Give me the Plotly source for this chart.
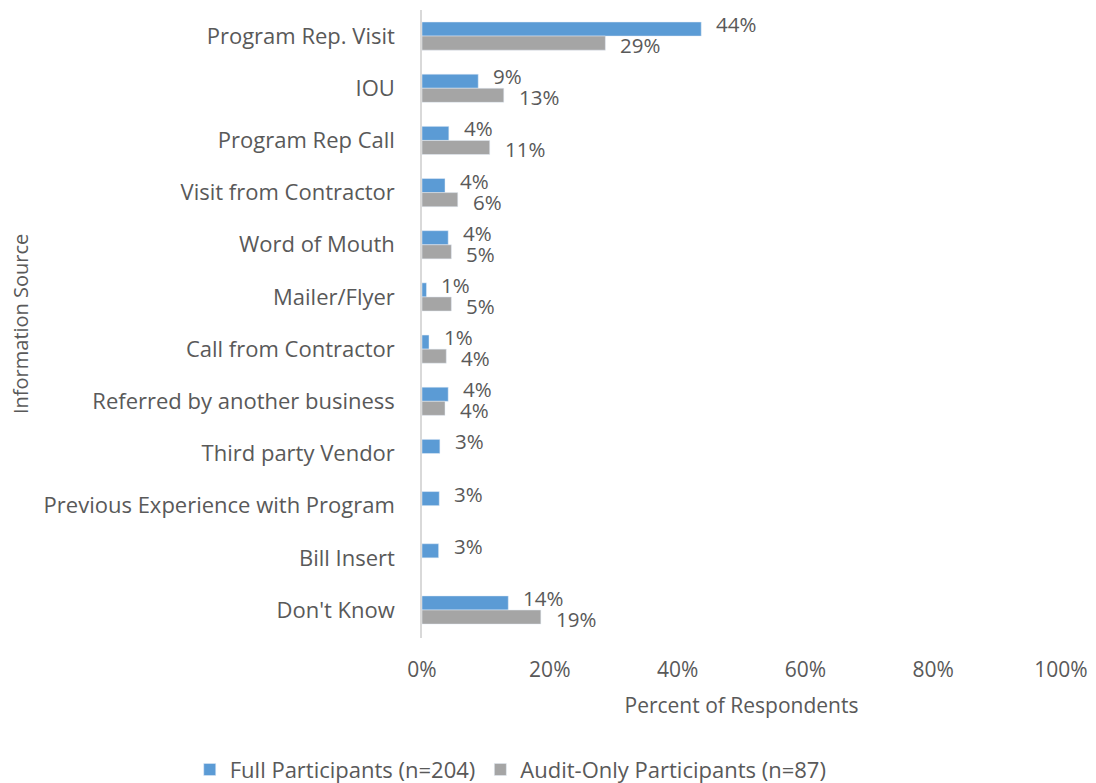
import plotly.graph_objects as go

categories = ["Program Rep. Visit", "IOU", "Program Rep Call", "Visit from Contractor",
              "Word of Mouth", "Mailer/Flyer", "Call from Contractor",
              "Referred by another business", "Third party Vendor",
              "Previous Experience with Program", "Bill Insert", "Don't Know"]
full_vals = [43.7, 8.8, 4.2, 3.6, 4.1, 0.7, 1.1, 4.1, 2.8, 2.7, 2.6, 13.5]
audit_vals = [28.7, 12.8, 10.6, 5.6, 4.6, 4.6, 3.8, 3.6, None, None, None, 18.6]
x_ticks = [0, 20, 40, 60, 80, 100]
x_tick_labels = ["0%", "20%", "40%", "60%", "80%", "100%"]

BLUE = "#5B9BD5"
GRAY = "#A5A5A5"
TXT = "#595959"
MAIN = "Open Sans, Liberation Sans, sans-serif"

fig = go.Figure()
fig.add_trace(go.Bar(
    y=categories, x=full_vals, orientation="h", name="Full Participants (n=204)",
    marker_color=BLUE,
))
fig.add_trace(go.Bar(
    y=categories, x=audit_vals, orientation="h", name="Audit-Only Participants (n=87)",
    marker_color=GRAY,
))

annotations = []
for cat, v in zip(categories, full_vals):
    if v is not None:
        annotations.append(dict(x=v, y=cat, xref="x", yref="y", text=f"{round(v):.0f}%",
                                showarrow=False, xanchor="left", yanchor="middle",
                                xshift=13, yshift=12,
                                font=dict(family=MAIN, size=20.5, color=TXT)))
for cat, v in zip(categories, audit_vals):
    if v is not None:
        annotations.append(dict(x=v, y=cat, xref="x", yref="y", text=f"{round(v):.0f}%",
                                showarrow=False, xanchor="left", yanchor="middle",
                                xshift=13, yshift=-9,
                                font=dict(family=MAIN, size=20.5, color=TXT)))

annotations.append(dict(
    text="Information Source", textangle=-90, xref="paper", yref="paper",
    x=-(422 - 20) / 639, y=0.5, xanchor="center", yanchor="middle",
    showarrow=False, font=dict(family=MAIN, size=20, color=TXT),
))

fig.update_layout(
    width=1096, height=783,
    barmode="group", bargap=0.46, bargroupgap=0,
    plot_bgcolor="white", paper_bgcolor="white",
    margin=dict(l=422, r=35, t=10, b=145, autoexpand=False),
    font=dict(family=MAIN, color=TXT),
    xaxis=dict(
        range=[0, 100], tickvals=x_ticks, ticktext=x_tick_labels,
        showgrid=False, zeroline=False, showline=False, ticks="",
        tickfont=dict(family=MAIN, size=21, color=TXT),
        ticklabelstandoff=17,
        title=dict(text="Percent of Respondents", standoff=16,
                   font=dict(family=MAIN, size=21, color=TXT)),
        automargin=False,
    ),
    yaxis=dict(
        autorange="reversed", showgrid=False, zeroline=False,
        showline=True, linecolor="#D9D9D9", linewidth=1.5, ticks="",
        tickfont=dict(family=MAIN, size=22, color=TXT),
        ticklabelstandoff=21, automargin=False,
    ),
    legend=dict(
        orientation="h", xref="container", yref="container",
        x=0.466, xanchor="center", y=0.017, yanchor="middle",
        font=dict(family=MAIN, size=22, color=TXT),
        itemwidth=30, traceorder="normal",
    ),
    annotations=annotations,
)

fig.write_html("out.html", post_script="document.body.style.margin='0';",
               config={"displayModeBar": False})
